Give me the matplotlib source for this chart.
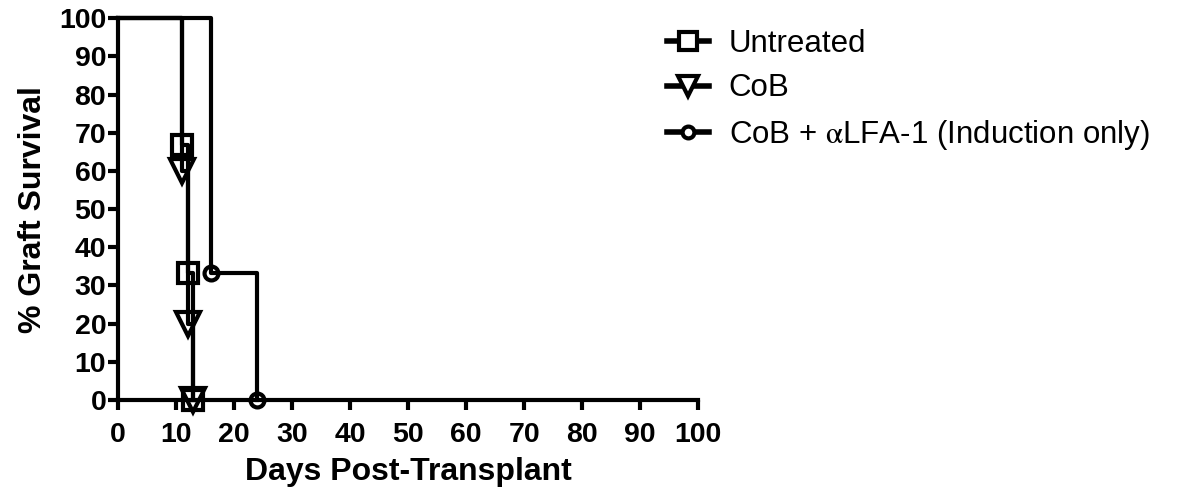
import matplotlib
matplotlib.use("Agg")
import matplotlib.pyplot as plt
from matplotlib.lines import Line2D

# Kaplan-Meier survival steps for each group (day, % surviving)
untreated_days = [0, 11, 12, 13]
untreated_surv = [100, 66.7, 33.3, 0]

cob_days = [0, 11, 12, 13]
cob_surv = [100, 60, 20, 0]

lfa_days = [0, 16, 24]
lfa_surv = [100, 33.3, 0]

labels = ["Untreated", "CoB", r"CoB + $\mathrm{\alpha}$LFA-1 (Induction only)"]
x_ticks = list(range(0, 101, 10))
y_ticks = list(range(0, 101, 10))

plt.rcParams["font.family"] = ["Liberation Sans", "DejaVu Sans"]
plt.rcParams["mathtext.fontset"] = "stix"

fig = plt.figure(figsize=(11.79, 4.92), dpi=100)
ax = fig.add_axes([0.1001, 0.187, 0.492, 0.776])

lw = 3.0
groups = [
    (untreated_days, untreated_surv, "s", 15),
    (cob_days, cob_surv, "v", 17),
    (lfa_days, lfa_surv, "o", 10),
]
for days, surv, marker, ms in groups:
    ax.step(days, surv, where="post", color="black", lw=lw,
            clip_on=False, solid_capstyle="projecting", zorder=3)
    # hollow symbols at each event
    ax.plot(days[1:], surv[1:], linestyle="none", marker=marker, ms=ms,
            mfc="none", mec="black", mew=3, clip_on=False, zorder=4)

ax.set_xlim(0, 100)
ax.set_ylim(0, 100)
ax.set_xticks(x_ticks)
ax.set_yticks(y_ticks)
for side in ["top", "right"]:
    ax.spines[side].set_visible(False)
for side in ["left", "bottom"]:
    ax.spines[side].set_linewidth(3)
ax.tick_params(axis="both", width=3, length=7, direction="out",
               labelsize=20.5)
ax.tick_params(axis="y", pad=1.5)
ax.tick_params(axis="x", pad=8.5)
for lab in ax.get_xticklabels() + ax.get_yticklabels():
    lab.set_fontweight("bold")

ax.set_xlabel("Days Post-Transplant", fontsize=23, fontweight="bold",
              labelpad=6.5)
ax.set_ylabel("% Graft Survival", fontsize=23, fontweight="bold",
              labelpad=8)

handles = [
    Line2D([], [], color="black", lw=4, marker=m, ms=s * 0.85,
           mfc="white", mec="black", mew=3)
    for _, _, m, s in groups
]
fig.legend(handles, labels, loc="upper left",
           bbox_to_anchor=(0.542, 0.998), frameon=False,
           prop={"size": 22.5},
           handlelength=1.35, handletextpad=0.62, labelspacing=0.46)

fig.savefig("out.png", dpi=100)
